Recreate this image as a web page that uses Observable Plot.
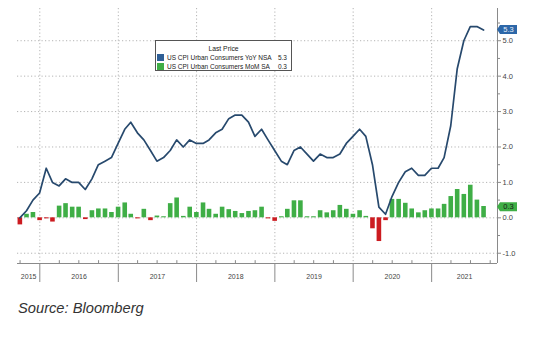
<!DOCTYPE html>
<html><head><meta charset="utf-8">
<script src="https://cdn.jsdelivr.net/npm/d3@7"></script>
<script src="https://cdn.jsdelivr.net/npm/@observablehq/plot@0.6"></script>
<style>
body{margin:0;background:#fff;font-family:"Liberation Sans",Arial,sans-serif;}
#wrap{position:relative;width:555px;height:354px;background:#fff;overflow:hidden;}
#chart svg{display:block;}
#legend{position:absolute;left:155px;top:40px;width:137px;height:31px;border:1px solid #555;background:#fff;font-size:6.5px;color:#222;line-height:9px;box-sizing:border-box;}
#legend .t{position:absolute;left:0;right:0;top:3px;text-align:center;font-size:6.8px;}
#legend .r{position:absolute;left:1px;right:4px;white-space:nowrap;}
#legend .sw{display:inline-block;width:7px;height:7px;vertical-align:-1px;margin-right:3px;}
#legend .v{position:absolute;right:0;top:0;}
#caption{position:absolute;left:18px;top:300.5px;font-size:14.7px;line-height:15px;font-style:italic;color:#333;}
</style></head>
<body>
<div id="wrap">
  <div id="chart"></div>
  <div id="legend"></div>
  <div id="caption">Source: Bloomberg</div>
</div>
<script>
// Sep 2015 .. Aug 2021, monthly
const startMonth = "2015-09";
const yoy = [0.0,0.2,0.5,0.7,
  1.4,1.0,0.9,1.1,1.0,1.0,0.8,1.1,1.5,1.6,1.7,2.1,
  2.5,2.7,2.4,2.2,1.9,1.6,1.7,1.9,2.2,2.0,2.2,2.1,
  2.1,2.2,2.4,2.5,2.8,2.9,2.9,2.7,2.3,2.5,2.2,1.9,
  1.6,1.5,1.9,2.0,1.8,1.6,1.8,1.7,1.7,1.8,2.1,2.3,
  2.5,2.3,1.5,0.3,0.1,0.6,1.0,1.3,1.4,1.2,1.2,1.4,
  1.4,1.7,2.6,4.2,5.0,5.4,5.4,5.3];
const mom = [-0.2,0.1,0.15,-0.08,
  -0.03,-0.12,0.33,0.4,0.3,0.3,-0.05,0.2,0.25,0.25,0.15,0.3,
  0.42,0.1,-0.03,0.24,-0.08,0.05,0.03,0.4,0.56,0.04,0.3,0.15,
  0.42,0.24,0.1,0.3,0.23,0.18,0.12,0.18,0.2,0.3,-0.03,-0.1,
  0.03,0.24,0.48,0.48,0.03,0.03,0.2,0.14,0.2,0.35,0.24,0.1,
  0.2,0.04,-0.31,-0.67,-0.08,0.52,0.52,0.41,0.25,0.14,0.2,0.25,
  0.25,0.38,0.6,0.8,0.66,0.92,0.5,0.32];
const yearLabels = ["2015","2016","2017","2018","2019","2020","2021"];
const yTicks = [-1,0,1,2,3,4,5];
const yMinor = [-0.5,0.5,1.5,2.5,3.5,4.5,5.5];
const seriesNames = ["US CPI Urban Consumers YoY NSA","US CPI Urban Consumers MoM SA"];
const lastValues = [5.3, 0.3];

const lineColor = "#27496d", blueTag = "#2d67a8", green = "#3fae46", red = "#cc1b20", axisGray = "#8a8a8a", gridGray = "#b4b4b4";

const x0 = new Date(Date.UTC(2015,8,19)), x1 = new Date(Date.UTC(2021,10,4));
const yMin = -1.29, yMax = 5.91;

const first = d3.utcParse("%Y-%m")(startMonth);
const rows = yoy.map((v,i) => ({
  date: d3.utcDay.offset(d3.utcMonth.offset(first, i + 1), -1),
  yoy: v, mom: mom[i]
}));
const yearStarts = yearLabels.slice(1).map(y => d3.utcParse("%Y")(y));
const bounds = [x0, ...yearStarts, x1];
const yearMids = yearLabels.map((t,i) => ({text:t, x: new Date((+bounds[i] + +bounds[i+1]) / 2)}));
const quarters = d3.utcMonth.every(3).range(x0, x1).filter(d => d.getUTCMonth() !== 0);

const chart = Plot.plot({
  width: 555, height: 290,
  marginLeft: 17, marginRight: 58, marginTop: 8, marginBottom: 27,
  x: {type: "utc", domain: [x0, x1]},
  y: {domain: [yMin, yMax]},
  style: {fontFamily: "Liberation Sans, Arial, sans-serif", background: "#fff", overflow: "visible"},
  marks: [
    Plot.ruleY(yTicks, {stroke: gridGray, strokeDasharray: "1.2,2.3"}),
    Plot.ruleX(yearStarts, {stroke: gridGray, strokeDasharray: "1.2,2.3"}),
    Plot.ruleX(rows, {x: "date", y1: 0, y2: "mom", stroke: d => d.mom < 0 ? red : green, strokeWidth: 4.6}),
    Plot.line(rows, {x: "date", y: "yoy", stroke: lineColor, strokeWidth: 1.7}),
    Plot.ruleY([yMin], {stroke: axisGray}),
    Plot.ruleX([x1], {stroke: axisGray}),
    Plot.axisY(yTicks, {anchor: "right", tickSize: 3, tickPadding: 2, tickFormat: d => d.toFixed(1), fontSize: 7.5, color: "#444", stroke: axisGray}),
    Plot.axisY(yMinor, {anchor: "right", tickSize: 2, tickFormat: () => "", stroke: axisGray}),
    Plot.axisX(yearStarts, {anchor: "bottom", tickSize: 19, tickFormat: () => "", stroke: axisGray}),
    Plot.ruleX(quarters, {y1: yMin, y2: yMin + 0.08, stroke: axisGray}),
    Plot.text(yearMids, {x: "x", text: "text", frameAnchor: "bottom", dy: 15, fontSize: 7, fill: "#444"})
  ]
});
document.getElementById("chart").appendChild(chart);

// last-value tags on the right axis
const ys = chart.scale("y"), xs = chart.scale("x");
const ax = xs.apply(x1);
const svg = d3.select(chart);
[[lastValues[0], blueTag, "#e8eef8"], [lastValues[1], green, "#1a1a1a"]].forEach(([v, bg, fg]) => {
  const y = ys.apply(v);
  svg.append("path")
    .attr("d", `M${ax},${y} L${ax+3},${y-4.5} L${ax+20},${y-4.5} L${ax+20},${y+4.5} L${ax+3},${y+4.5} Z`)
    .attr("fill", bg);
  svg.append("text").attr("x", ax + 11.5).attr("y", y).attr("dy", "0.35em")
    .attr("text-anchor", "middle").attr("font-size", 7.5).attr("fill", fg)
    .attr("font-family", "Liberation Sans, Arial, sans-serif").text(v.toFixed(1));
});

// legend
const lg = document.getElementById("legend");
lg.innerHTML = `<div class="t">Last Price</div>` +
  seriesNames.map((n,i) => `<div class="r" style="top:${12 + i*9}px"><span class="sw" style="background:${i ? green : "#2f5f96"}"></span>${n}<span class="v">${lastValues[i].toFixed(1)}</span></div>`).join("");
</script>
</body></html>
